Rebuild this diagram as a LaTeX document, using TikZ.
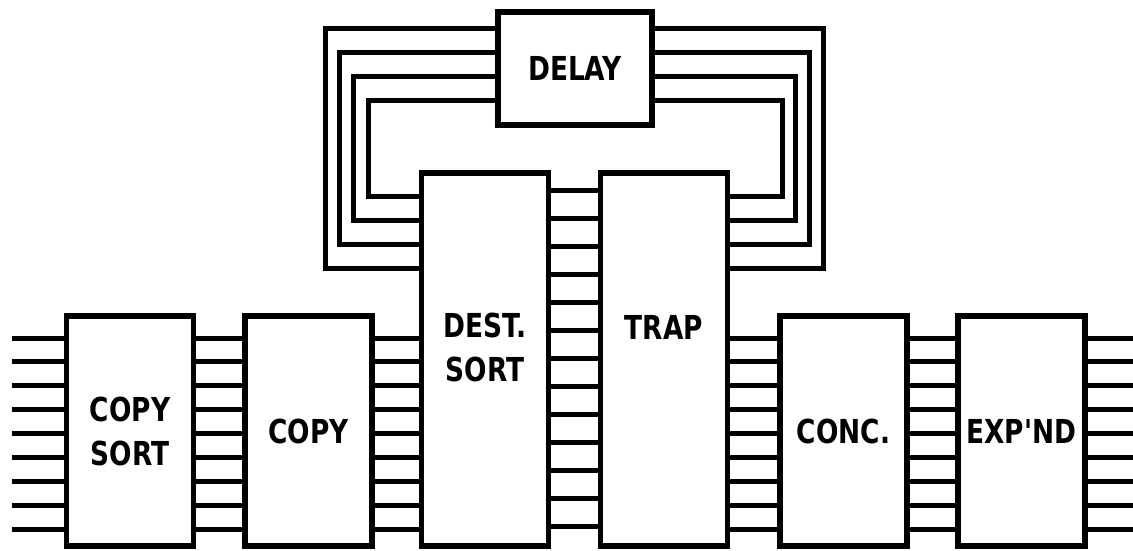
\documentclass[tikz,border=0pt]{standalone}
\usepackage{fontspec}
\newfontfamily\blockfont{DejaVu Sans}[FakeStretch=0.8]
\usetikzlibrary{positioning}

\begin{document}
\begin{tikzpicture}[x=1pt, y=-1pt,
    txt/.style={align=center, font=\blockfont\bfseries\fontsize{33}{44}\selectfont},
    box/.style={draw, line width=5.5pt, minimum width=127pt, inner sep=0pt, txt},
    wire/.style={line width=5pt}]
  \useasboundingbox (0,0) rectangle (1133,550);
  % stages
  \node[box, minimum height=230pt] (copysort) at (130,431) {COPY\\SORT};
  \node[box, minimum height=230pt] (copy) at (308.5,431) {COPY};
  \node[box, minimum height=373pt,
    label={[txt, yshift=12pt]center:{DEST.\\SORT}}] (dest) at (485,359.5) {};
  \node[box, minimum height=373pt,
    label={[txt, yshift=32pt]center:TRAP}] (trap) at (664,359.5) {};
  \node[box, minimum height=230pt] (conc) at (843.5,431) {CONC.};
  \node[box, minimum height=230pt] (expnd) at (1021.5,431) {EXP'ND};
  \node[box, minimum width=154pt, minimum height=113pt] (delay) at (575,68.5) {DELAY};
  % buses
  \coordinate (busin) at (12,0);
  \coordinate (busout) at (1133,0);
  \foreach \i in {0,...,8} {
    \pgfmathsetmacro{\y}{338+23.875*\i}
    \draw[wire] (busin |- 0,\y) -- (copysort.west |- 0,\y);
    \draw[wire] (copysort.east |- 0,\y) -- (copy.west |- 0,\y);
    \draw[wire] (copy.east |- 0,\y) -- (dest.west |- 0,\y);
    \draw[wire] (trap.east |- 0,\y) -- (conc.west |- 0,\y);
    \draw[wire] (conc.east |- 0,\y) -- (expnd.west |- 0,\y);
    \draw[wire] (expnd.east |- 0,\y) -- (busout |- 0,\y);
  }
  \foreach \i in {0,...,12} {
    \pgfmathsetmacro{\y}{190+28.05*\i}
    \draw[wire] (dest.east |- 0,\y) -- (trap.west |- 0,\y);
  }
  % feedback through the delay
  \foreach \k in {0,...,3} {
    \pgfmathsetmacro{\xl}{368-14.3*\k}
    \pgfmathsetmacro{\xr}{782+13.7*\k}
    \pgfmathsetmacro{\yt}{100-23.8*\k}
    \pgfmathsetmacro{\yb}{196+24*\k}
    \draw[wire] (dest.west |- 0,\yb) -| (\xl,\yt) -- (delay.west |- 0,\yt);
    \draw[wire] (trap.east |- 0,\yb) -| (\xr,\yt) -- (delay.east |- 0,\yt);
  }
\end{tikzpicture}
\end{document}
